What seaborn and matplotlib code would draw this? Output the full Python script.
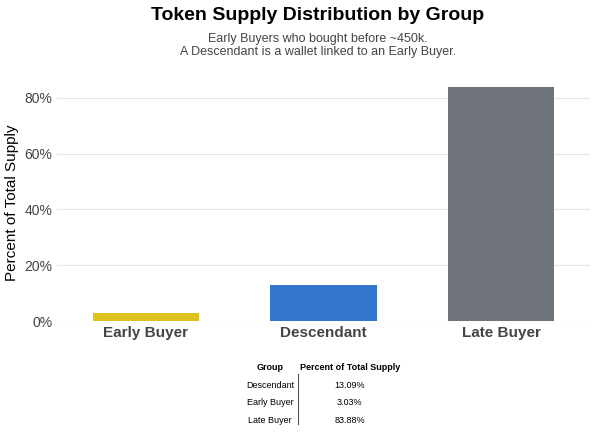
import matplotlib
matplotlib.use("Agg")
import matplotlib.pyplot as plt
import seaborn as sns
import pandas as pd

groups = ["Early Buyer", "Descendant", "Late Buyer"]
percents = [3.03, 13.09, 83.88]
colors = ["#FFD700", "#1A73E8", "#6C737C"]
table_groups = ["Descendant", "Early Buyer", "Late Buyer"]
table_vals = ["13.09%", "3.03%", "83.88%"]

df = pd.DataFrame({"Group": groups, "Percent": percents})
plt.rcParams["font.family"] = "Liberation Sans"
fig = plt.figure(figsize=(6, 4.37), dpi=100)
ax = fig.add_axes([0.095, 0.265, 0.888, 0.54])
sns.barplot(data=df, x="Group", y="Percent", hue="Group", palette=colors,
            legend=False, width=0.6, ax=ax)
ax.set_ylim(0, 84.5)
ax.set_yticks([0, 20, 40, 60, 80])
ax.set_yticklabels([f"{v}%" for v in [0, 20, 40, 60, 80]], fontsize=10, color="#444444")
ax.set_xticks(range(3))
ax.set_xticklabels(groups, fontsize=11, fontweight="bold", color="#444444")
ax.set_xlabel("")
ax.set_ylabel("Percent of Total Supply", fontsize=11)
ax.grid(axis="y", color="#e5e5e5", linewidth=0.8)
ax.set_axisbelow(True)
for s in ax.spines.values():
    s.set_visible(False)
ax.tick_params(length=0)

fig.text(0.53, 0.955, "Token Supply Distribution by Group", ha="center",
         fontsize=14, fontweight="bold")
fig.text(0.53, 0.895, "Early Buyers who bought before ~450k.\nA Descendant is a wallet linked to an Early Buyer.",
         ha="center", va="center", fontsize=9, color="#444444", linespacing=1.1)

# table
fig.text(0.45, 0.153, "Group", ha="center", fontsize=6.5, fontweight="bold")
fig.text(0.583, 0.153, "Percent of Total Supply", ha="center", fontsize=6.5, fontweight="bold")
for i, (g, v) in enumerate(zip(table_groups, table_vals)):
    y = 0.113 - i * 0.04
    fig.text(0.45, y, g, ha="center", fontsize=6.5)
    fig.text(0.583, y, v, ha="center", fontsize=6.5)
fig.add_artist(plt.Line2D([0.497, 0.497], [0.03, 0.145], color="#555555", linewidth=0.8))
fig.savefig("out.png", dpi=100, facecolor="white")
